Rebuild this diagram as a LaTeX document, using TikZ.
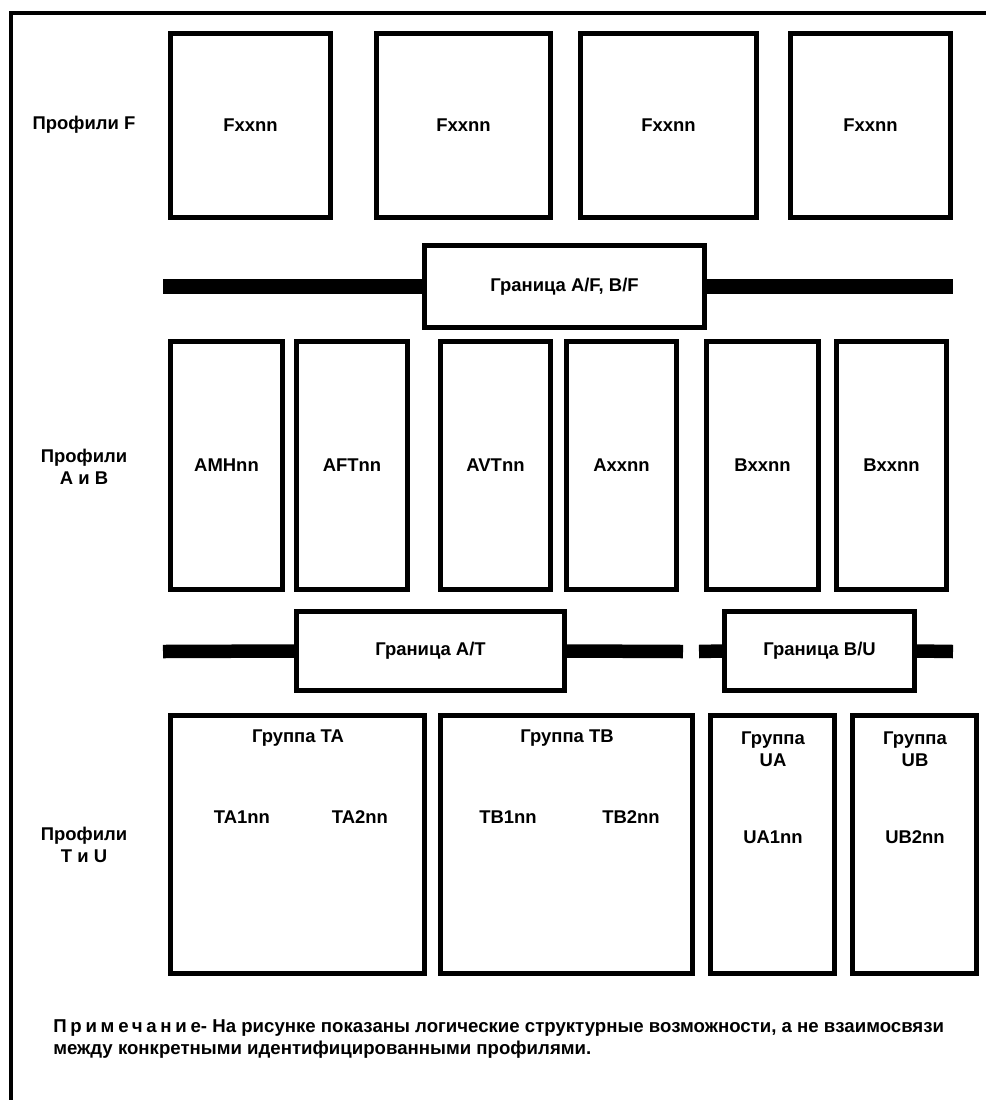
\documentclass[tikz,border=0pt]{standalone}
\usepackage{fontspec}
\setmainfont{Liberation Sans}
\usetikzlibrary{positioning}
\tikzset{
  profnode/.style = {align=center, inner sep=0pt, black, draw, line width=2.8pt, fill=white,
  text centered, font=\fontsize{10.5}{12.5}\selectfont\bfseries},
  prof_f/.style = {profnode, minimum height=3.68cm},
  prof_ab/.style = {profnode, minimum height=4.96cm},
  prof_tu/.style = {profnode, minimum height=5.16cm},
  bound/.style = {profnode, minimum height=1.6cm},
  lbl/.style = {align=center, inner sep=0pt, font=\fontsize{10.5}{12.5}\selectfont\bfseries}
}

\begin{document}
\begin{tikzpicture}[x=0.02cm, y=-0.02cm,
        bar/.style={line width=0.3cm},
        thinbar/.style={line width=0.27cm},
        frame/.style={line width=2.4pt},
        note/.style={anchor=west, inner sep=0pt, font=\fontsize{10.6}{12}\selectfont\bfseries}]
        \useasboundingbox (0,0) rectangle (986,1100);
        \draw[frame] (986,13) -- (11,13) -- (11,1100);
        % profiles F
        \node [lbl] (lblF) at (84,125) {Профили F};
        \node [prof_f, minimum width=3.2cm] (F1) at (250.5,125.5) {Fxxnn};
        \node [prof_f, minimum width=3.48cm] (F2) at (463.5,125.5) {Fxxnn};
        \node [prof_f, minimum width=3.52cm] (F3) at (668.5,125.5) {Fxxnn};
        \node [prof_f, minimum width=3.2cm] (F4) at (870.5,125.5) {Fxxnn};
        % boundary A/F, B/F
        \node [bound, minimum width=5.6cm, minimum height=1.64cm] (AF) at (564.5,286.5) {Граница A/F, B/F};
        \coordinate (AFl) at (163,286.5);
        \coordinate (AFr) at (953,286.5);
        \draw [bar] (AFl) -- (AF.west);
        \draw [bar] (AF.east) -- (AFr);
        % profiles A and B
        \node [lbl] (lblAB) at (84,467) {Профили\\A и B};
        \node [prof_ab, minimum width=2.24cm] (AMH) at (226.5,465.5) {AMHnn};
        \node [prof_ab, minimum width=2.22cm] (AFT) at (352,465.5) {AFTnn};
        \node [prof_ab, minimum width=2.2cm] (AVT) at (495.5,465.5) {AVTnn};
        \node [prof_ab, minimum width=2.2cm] (Axx) at (621.5,465.5) {Axxnn};
        \node [prof_ab, minimum width=2.24cm] (Bxx1) at (762.5,465.5) {Bxxnn};
        \node [prof_ab, minimum width=2.2cm] (Bxx2) at (891.5,465.5) {Bxxnn};
        % boundaries A/T and B/U
        \node [bound, minimum width=5.36cm, minimum height=1.58cm] (AT) at (430.5,651) {Граница A/T};
        \node [bound, minimum width=3.8cm, minimum height=1.58cm] (BU) at (819.5,651) {Граница B/U};
        \coordinate (ATl) at (163,651.5);
        \coordinate (ATr) at (683,651.5);
        \coordinate (BUl) at (699,651.5);
        \coordinate (BUr) at (953,651.5);
        \draw [thinbar] (ATl) -- (AT.west);
        \draw [thinbar] (AT.east) -- (ATr);
        \draw [thinbar] (BUl) -- (BU.west);
        \draw [thinbar] (BU.east) -- (BUr);
        % profiles T and U
        \node [lbl] (lblTU) at (84,845) {Профили\\T и U};
        \node [prof_tu, minimum width=5.08cm] (TA) at (297.5,844.5) {};
        \node [prof_tu, minimum width=5.04cm] (TB) at (566.5,844.5) {};
        \node [prof_tu, minimum width=2.48cm] (UA) at (772.5,844.5) {};
        \node [prof_tu, minimum width=2.48cm] (UB) at (914.5,844.5) {};
        \node [lbl] (TAt) at (298,738) {Группа TA};
        \node [lbl] (TA1) at (242,817) {TA1nn};
        \node [lbl] (TA2) at (360,817) {TA2nn};
        \node [lbl] (TBt) at (567,738) {Группа TB};
        \node [lbl] (TB1) at (508,817) {TB1nn};
        \node [lbl] (TB2) at (631,817) {TB2nn};
        \node [lbl] (UAt) at (773,749) {Группа\\UA};
        \node [lbl] (UA1) at (773,837) {UA1nn};
        \node [lbl] (UBt) at (915,749) {Группа\\UB};
        \node [lbl] (UB2) at (915,837) {UB2nn};
        % note
        \node [note] (note1) at (53,1028) {{\addfontfeature{LetterSpace=20}Примечание}- На рисунке показаны логические структурные возможности, а не взаимосвязи};
        \node [note] (note2) at (53,1050) {между конкретными идентифицированными профилями.};
\end{tikzpicture}
\end{document}
